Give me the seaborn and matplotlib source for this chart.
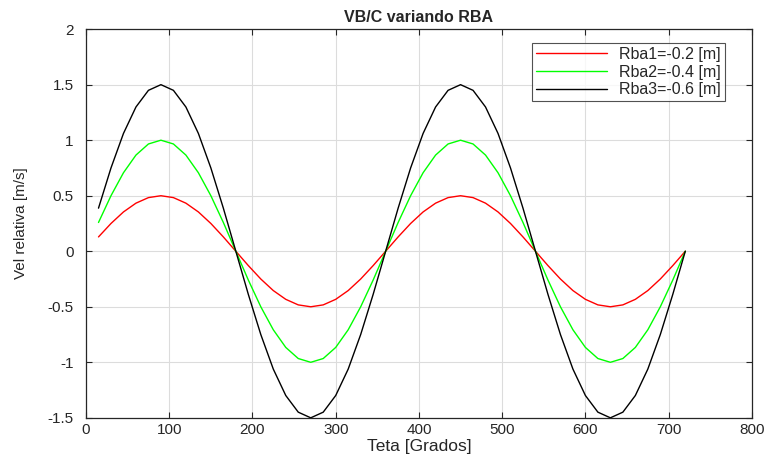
import numpy as np
import pandas as pd
import matplotlib
matplotlib.use("Agg")
import matplotlib.pyplot as plt
import seaborn as sns

teta = [15, 30, 45, 60, 75, 90, 105, 120, 135, 150, 165, 180,
        195, 210, 225, 240, 255, 270, 285, 300, 315, 330, 345, 360,
        375, 390, 405, 420, 435, 450, 465, 480, 495, 510, 525, 540,
        555, 570, 585, 600, 615, 630, 645, 660, 675, 690, 705, 720]

rba1 = [0.129, 0.25, 0.354, 0.433, 0.483, 0.5, 0.483, 0.433, 0.354, 0.25, 0.129, 0.0,
        -0.129, -0.25, -0.354, -0.433, -0.483, -0.5, -0.483, -0.433, -0.354, -0.25, -0.129, 0.0,
        0.129, 0.25, 0.354, 0.433, 0.483, 0.5, 0.483, 0.433, 0.354, 0.25, 0.129, 0.0,
        -0.129, -0.25, -0.354, -0.433, -0.483, -0.5, -0.483, -0.433, -0.354, -0.25, -0.129, 0.0]

rba2 = [0.259, 0.5, 0.707, 0.866, 0.966, 1.0, 0.966, 0.866, 0.707, 0.5, 0.259, 0.0,
        -0.259, -0.5, -0.707, -0.866, -0.966, -1.0, -0.966, -0.866, -0.707, -0.5, -0.259, 0.0,
        0.259, 0.5, 0.707, 0.866, 0.966, 1.0, 0.966, 0.866, 0.707, 0.5, 0.259, 0.0,
        -0.259, -0.5, -0.707, -0.866, -0.966, -1.0, -0.966, -0.866, -0.707, -0.5, -0.259, 0.0]

rba3 = [0.388, 0.75, 1.061, 1.299, 1.449, 1.5, 1.449, 1.299, 1.061, 0.75, 0.388, 0.0,
        -0.388, -0.75, -1.061, -1.299, -1.449, -1.5, -1.449, -1.299, -1.061, -0.75, -0.388, 0.0,
        0.388, 0.75, 1.061, 1.299, 1.449, 1.5, 1.449, 1.299, 1.061, 0.75, 0.388, 0.0,
        -0.388, -0.75, -1.061, -1.299, -1.449, -1.5, -1.449, -1.299, -1.061, -0.75, -0.388, 0.0]

labels = ["Rba1=-0.2 [m]", "Rba2=-0.4 [m]", "Rba3=-0.6 [m]"]
colors = ["#ff0000", "#00ff00", "#000000"]
xticks = [0, 100, 200, 300, 400, 500, 600, 700, 800]
yticks = [-1.5, -1, -0.5, 0, 0.5, 1, 1.5, 2]

df = pd.concat([
    pd.DataFrame({"Teta": teta, "Vel": vals, "Serie": lab})
    for vals, lab in zip([rba1, rba2, rba3], labels)
])

sns.set_style("white")
plt.rcParams['font.family'] = ['Liberation Sans', 'DejaVu Sans']

fig = plt.figure(figsize=(7.68, 4.70), dpi=100)
ax = fig.add_axes([0.112, 0.111, 0.867, 0.827])

sns.lineplot(data=df, x="Teta", y="Vel", hue="Serie", palette=colors,
             hue_order=labels, ax=ax, linewidth=1.0, legend=True)

ax.set_xlim(0, 800)
ax.set_ylim(-1.5, 2)
ax.set_xticks(xticks)
ax.set_xticklabels([str(t) for t in xticks])
ax.set_yticks(yticks)
ax.set_yticklabels([f"{t:g}" for t in yticks])
ax.grid(True, color="#dcdcdc", linewidth=0.8)
ax.tick_params(direction="in", length=4, labelsize=11, colors="#262626",
               top=True, right=True, bottom=True, left=True)
ax.tick_params(axis="y", pad=9)
ax.tick_params(axis="x", pad=4)
for s in ax.spines.values():
    s.set_color("#262626")
    s.set_linewidth(0.9)
    s.set_visible(True)

ax.set_xlabel("Teta [Grados]", fontsize=12.5, color="#262626", labelpad=1)
ax.set_ylabel("Vel relativa [m/s]", fontsize=11, color="#262626", labelpad=14)
ax.set_title("VB/C variando RBA", fontsize=11.5, fontweight="bold", pad=5)

leg = ax.legend(loc="upper right", bbox_to_anchor=(0.96, 0.965), fontsize=11.5,
                frameon=True, fancybox=False, edgecolor="#262626",
                handlelength=4.4, borderpad=0.25, labelspacing=0.18,
                borderaxespad=0)
leg.get_frame().set_linewidth(0.8)

fig.savefig("out.png", dpi=100)
